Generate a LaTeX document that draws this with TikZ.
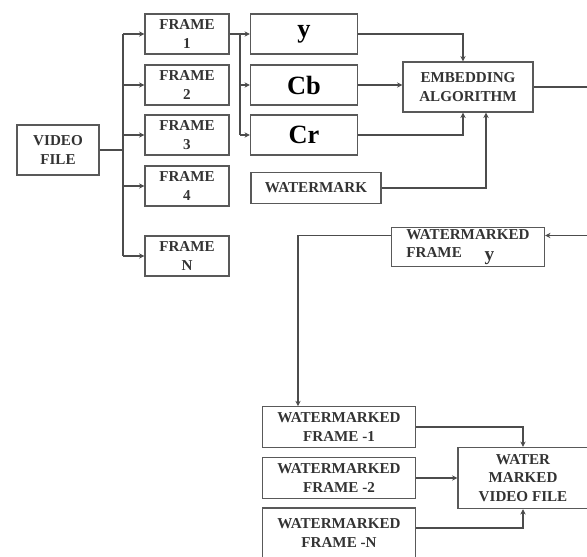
\documentclass[tikz,border=0pt]{standalone}
\usepackage{fontspec}
\setmainfont{Liberation Serif}
\usepackage{tikz}
\usetikzlibrary{positioning, arrows.meta}

\begin{document}
\begin{tikzpicture}[x=0.02cm, y=-0.02cm, >={Stealth[length=3pt, width=3pt]},
   line width=0.6pt, draw=black!70,
   blk/.style={rectangle, draw=black!65, line width=0.8pt, inner sep=1pt, align=center,
     text=black!80, font=\fontsize{8.6}{10.4}\selectfont\bfseries},
   frm/.style={blk, minimum width=1.68cm, minimum height=0.8cm},
   chan/.style={blk, minimum width=2.14cm, minimum height=0.8cm, text=black,
     font=\fontsize{15}{15}\selectfont\bfseries},
   wmf/.style={blk, minimum width=3.06cm, minimum height=0.81cm}]
  \useasboundingbox (0,0) rectangle (587,556);
  \clip (0,0) rectangle (587,556);
  % left part
  \node[blk, minimum width=1.64cm, minimum height=1cm] (vf) at (58,150) {VIDEO\\FILE};
  \node[frm] (f1) at (187,34)  {FRAME\\1};
  \node[frm] (f2) at (187,85)  {FRAME\\2};
  \node[frm] (f3) at (187,135) {FRAME\\3};
  \node[frm] (f4) at (187,186) {FRAME\\4};
  \node[frm] (fN) at (187,256) {FRAME\\N};
  \coordinate (b1) at (123,34);
  \coordinate (bN) at (123,256);
  \draw (b1) -- (bN);
  \draw (vf) -- (vf -| b1);
  \foreach \f in {f1,f2,f3,f4,fN}
    \draw[->] (\f.west -| b1) -- (\f);
  % channels
  \node[chan] (ych) at (304,34)  {y};
  \node[chan] (cb)  at (304,85)  {Cb};
  \node[chan] (cr)  at (304,135) {Cr};
  \node[blk, minimum width=2.6cm, minimum height=0.62cm] (wm) at (316,188) {WATERMARK};
  \coordinate (s1) at (240,34);
  \coordinate (s3) at (240,135);
  \draw (f1) -- (s1);
  \draw (s1) -- (s3);
  \foreach \c in {ych,cb,cr}
    \draw[->] (\c.west -| s1) -- (\c);
  % embedding
  \node[blk, minimum width=2.6cm, minimum height=1.0cm] (emb) at (468,87) {EMBEDDING\\ALGORITHM};
  \draw[->] (ych) -| ([xshift=-0.1cm]emb.north);
  \draw[->] (cb) -- (cb -| emb.west);
  \draw[->] (cr) -| ([xshift=-0.1cm]emb.south);
  \draw[->] (wm) -| ([xshift=0.36cm]emb.south);
  \coordinate (rt) at (590,0);
  \draw (emb) -- (emb -| rt);
  % watermarked frames
  \node[wmf, align=left, minimum height=0.78cm] (wmfy) at (468,247)
    {WATERMARKED\\FRAME\hspace{1.5em}\raisebox{-1.5pt}{\fontsize{11}{10}\selectfont y}};
  \coordinate (wy) at ([yshift=0.23cm]wmfy.east);
  \draw[->] (wy -| rt) -- (wy);
  \node[wmf] (wmf1) at (339,427) {WATERMARKED\\FRAME -1};
  \node[wmf] (wmf2) at (339,478) {WATERMARKED\\FRAME -2};
  \node[wmf, minimum height=1.0cm] (wmfN) at (339,533)
    {\raisebox{0.09cm}{\parbox{3cm}{\centering WATERMARKED\\FRAME -N}}};
  \draw[->] ([yshift=0.23cm]wmfy.west) -| ([xshift=-0.82cm]wmf1.north);
  \node[blk, minimum width=2.6cm, minimum height=1.22cm] (wmvf) at (523,478) {WATER\\MARKED\\VIDEO FILE};
  \draw[->] (wmf1) -| (wmvf);
  \draw[->] (wmf2) -- (wmvf);
  \draw[->] ([yshift=0.1cm]wmfN.east) -| (wmvf);
\end{tikzpicture}
\end{document}
